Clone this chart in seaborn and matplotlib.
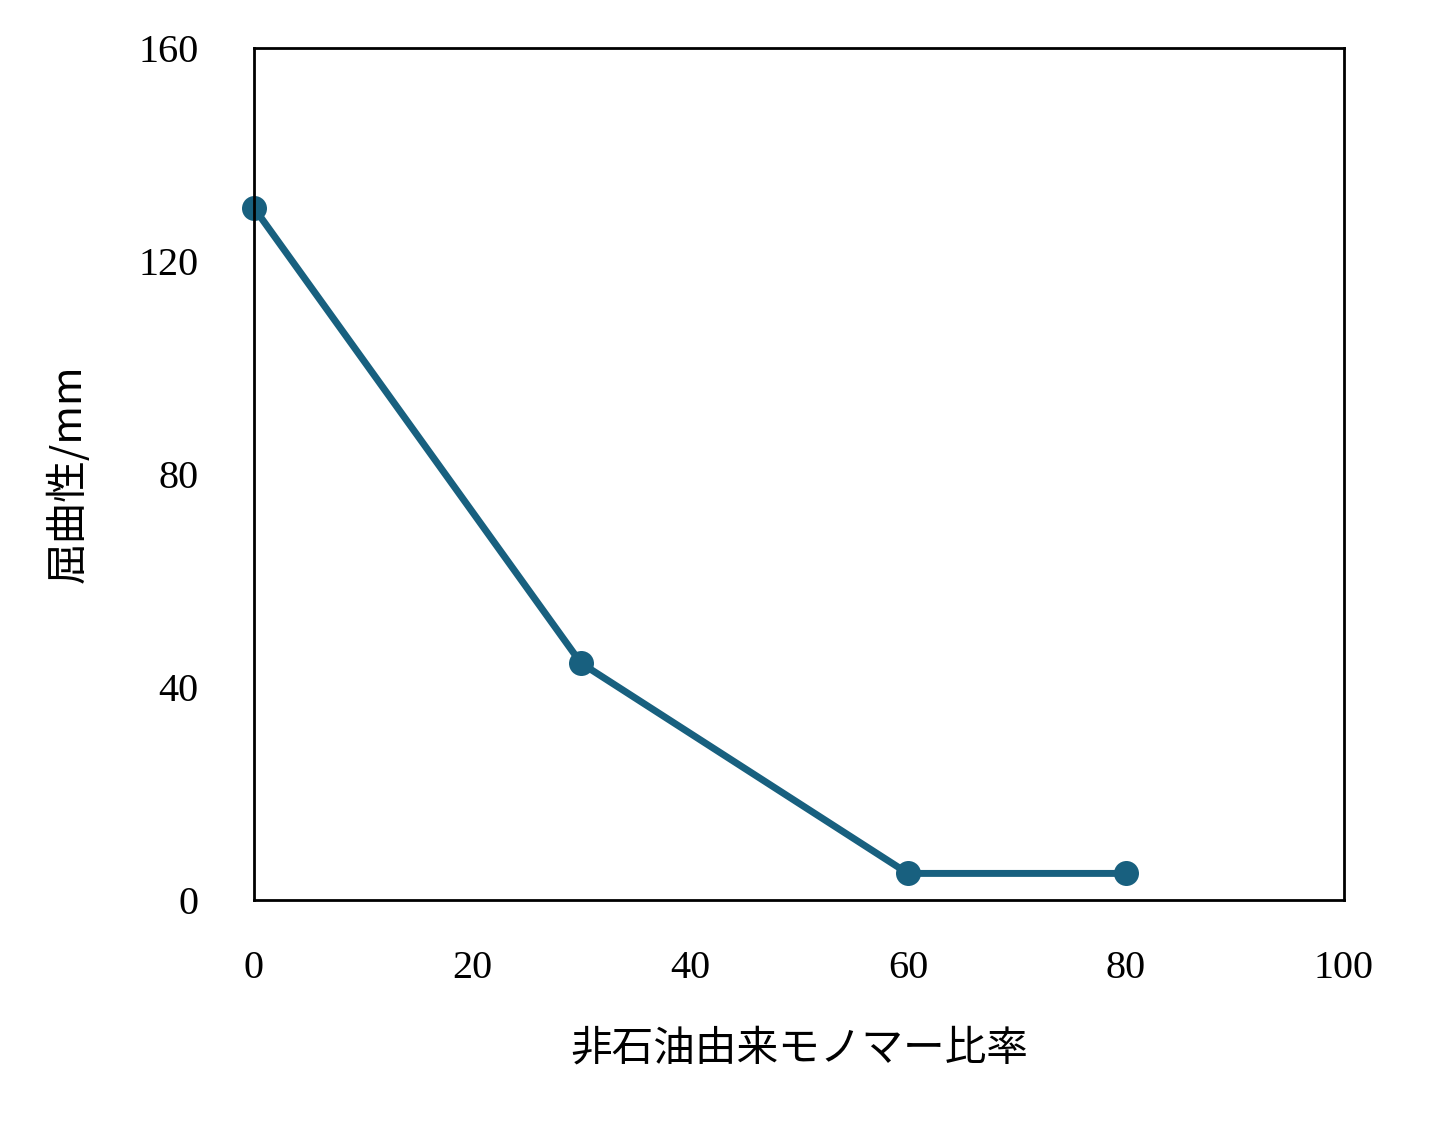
import matplotlib
matplotlib.use("Agg")
import matplotlib.pyplot as plt
import seaborn as sns
import pandas as pd

ratio = [0, 30, 60, 80]
flex = [130, 44.5, 5, 5]
xticks = [0, 20, 40, 60, 80, 100]
yticks = [0, 40, 80, 120, 160]

sns.set_theme(style="white")
plt.rcParams['font.family'] = ['Liberation Serif', 'Noto Sans CJK JP']
plt.rcParams['text.color'] = 'black'
plt.rcParams['xtick.color'] = 'black'
plt.rcParams['ytick.color'] = 'black'
plt.rcParams['axes.labelcolor'] = 'black'

fig = plt.figure(figsize=(14.29, 11.30), dpi=100)
ax = fig.add_axes([0.1777, 0.2035, 0.7628, 0.754])
df = pd.DataFrame({"x": ratio, "y": flex})
sns.lineplot(data=df, x="x", y="y", ax=ax, color="#18607f", linewidth=5,
             marker="o", markersize=18, markeredgewidth=0, clip_on=False)
ax.set_xlim(0, 100)
ax.set_ylim(0, 160)
ax.set_xticks(xticks)
ax.set_yticks(yticks)
ax.tick_params(axis='x', labelsize=29, length=0, pad=36)
ax.tick_params(axis='y', labelsize=29, length=0, pad=40)
for s in ax.spines.values():
    s.set_color("black"); s.set_linewidth(2)
ax.set_xlabel("非石油由来モノマー比率", fontsize=30, labelpad=30,
              family=['Noto Sans CJK JP'])
ax.set_ylabel("屈曲性/mm", fontsize=30, labelpad=35,
              family=['Noto Sans CJK JP', 'Liberation Serif'])
fig.savefig("out.png", dpi=100)
